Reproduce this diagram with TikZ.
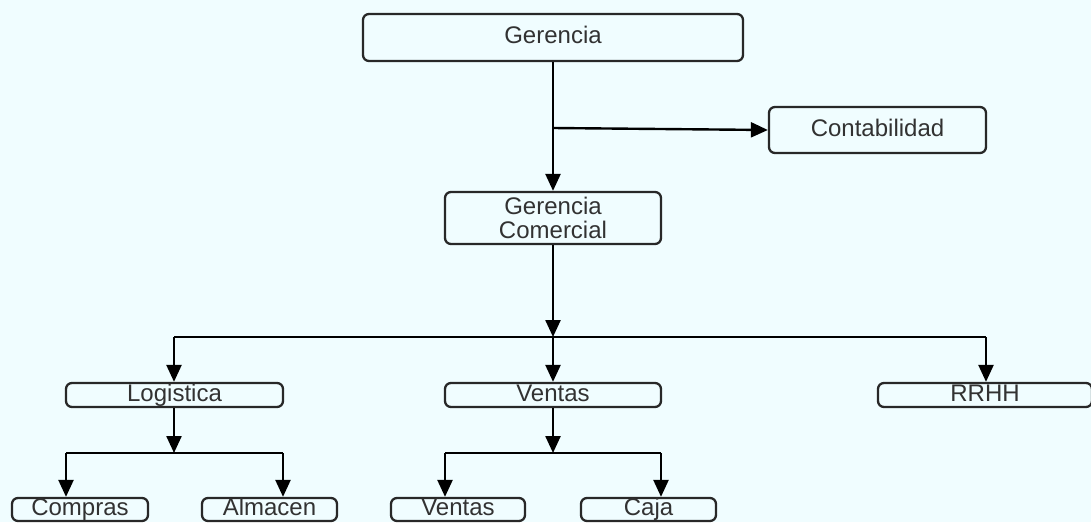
\documentclass[tikz,border=0pt]{standalone}
\usepackage{fontspec}
\setmainfont{Liberation Sans}
\usetikzlibrary{arrows.meta,calc}
\definecolor{bg}{RGB}{240,253,255}
\definecolor{ink}{RGB}{40,40,40}
\definecolor{txt}{RGB}{50,50,50}
\begin{document}
\begin{tikzpicture}[x=1pt,y=-1pt,
  box/.style={draw=ink, line width=2.3pt, rounded corners=6pt, inner sep=0pt, text=txt,
    font=\fontsize{24}{24}\selectfont, align=center},
  one/.style={box, text height=17pt, text depth=4.5pt},
  arr/.style={-{Triangle[length=17pt,width=15pt]}, line width=2.4pt, draw=black},
  ln/.style={line width=2.4pt, draw=black}]
\fill[bg] (0,0) rectangle (1091,522);
\useasboundingbox (0,0) rectangle (1091,522);

\node[one, minimum width=380pt, minimum height=47pt] (ger) at (553,37.5) {Gerencia};
\node[one, minimum width=217pt, minimum height=46pt] (cont) at (877.5,130) {Contabilidad};
\node[box, minimum width=216pt, minimum height=52pt] (gc) at (553,218) {Gerencia\\Comercial};
\node[one, minimum width=217pt, minimum height=24pt] (log) at (174.5,395) {Logistica};
\node[one, minimum width=216pt, minimum height=24pt] (ven) at (553,395) {Ventas};
\node[one, minimum width=214pt, minimum height=24pt] (rrhh) at (985,395) {RRHH};
\node[one, minimum width=136pt, minimum height=23pt] (comp) at (80,509.5) {Compras};
\node[one, minimum width=135pt, minimum height=23pt] (alm) at (269.5,509.5) {Almacen};
\node[one, minimum width=134pt, minimum height=23pt] (ven2) at (458,509.5) {Ventas};
\node[one, minimum width=135pt, minimum height=23pt] (caja) at (648.5,509.5) {Caja};

\coordinate (j1) at (553,128);
\draw[arr] (ger.south) -- (gc.north);
\draw[arr] (j1) -- (cont.west);

\coordinate (bus) at (553,337);
\coordinate (bl) at (174,337);
\coordinate (br) at (986,337);
\draw[arr] (gc.south) -- (bus);
\draw[ln] (bl) -- (br);
\draw[arr] (bl) -- (bl |- log.north);
\draw[arr] (bus) -- (ven.north);
\draw[arr] (br) -- (br |- rrhh.north);

\coordinate (lj) at (174,453);
\coordinate (la) at (66,453);
\coordinate (lb) at (283,453);
\draw[arr] (log.south -| lj) -- (lj);
\draw[ln] (la) -- (lb);
\draw[arr] (la) -- (la |- comp.north);
\draw[arr] (lb) -- (lb |- alm.north);

\coordinate (vj) at (553,453);
\coordinate (va) at (445,453);
\coordinate (vb) at (661,453);
\draw[arr] (ven.south) -- (vj);
\draw[ln] (va) -- (vb);
\draw[arr] (va) -- (va |- ven2.north);
\draw[arr] (vb) -- (vb |- caja.north);
\end{tikzpicture}
\end{document}
